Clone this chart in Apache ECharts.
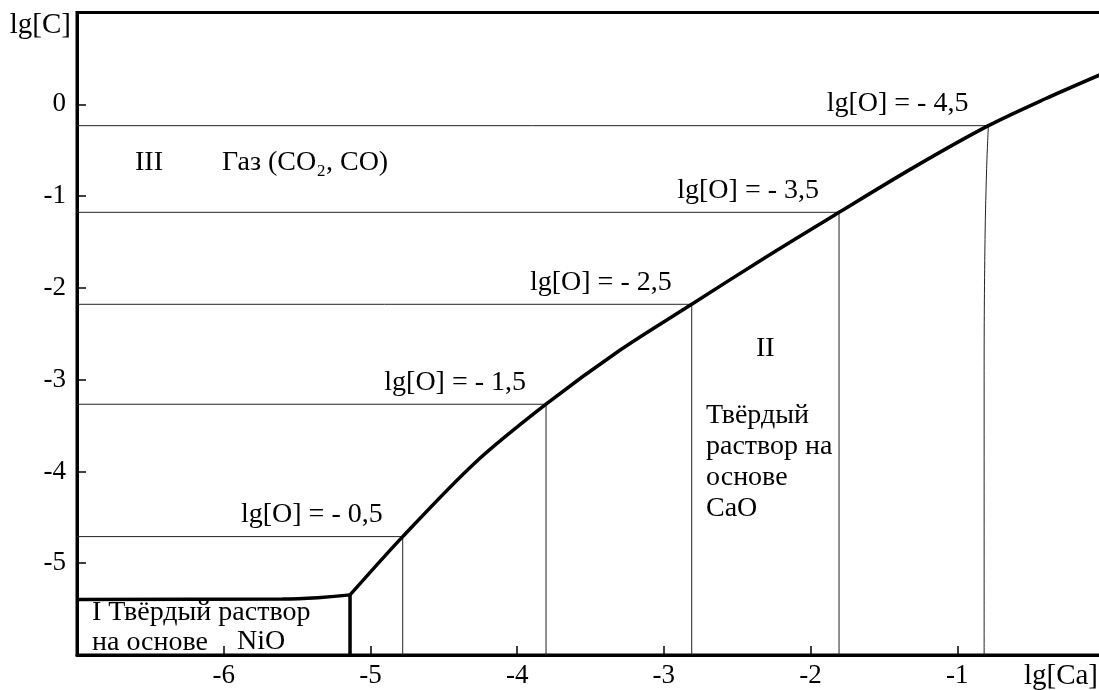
<!DOCTYPE html>
<html>
<head>
<meta charset="utf-8">
<script src="https://cdn.jsdelivr.net/npm/echarts@6/dist/echarts.min.js"></script>
<style>
html,body{margin:0;padding:0;background:#fff;}
#chart{width:1099px;height:690px;}
</style>
</head>
<body>
<div id="chart"></div>
<script>
// ---- data ----
const xTickValues = [-6, -5, -4, -3, -2, -1];
const yTickValues = [-5, -4, -3, -2, -1, 0];
const xAxisTitle = 'lg[Ca]';
const yAxisTitle = 'lg[C]';

// thick boundary Gas / CaO solid solution
const boundaryX = [-5.139, -4.78, -4.29, -3.803, -3.3, -2.81, -2.3, -1.806, -1.3, -0.788, -0.4, 0];
const boundaryY = [-5.345, -4.71, -3.91, -3.268, -2.68, -2.179, -1.66, -1.177, -0.69, -0.233, 0.06, 0.34];

// NiO region boundary
const nioX = [-7, -5.6, -5.36, -5.139];
const nioY = [-5.395, -5.39, -5.375, -5.345];
const nioVertX = [-5.139, -5.139];
const nioVertY = [-5.345, -6];

// iso-oxygen lines
const isoLabels = ['lg[O] = - 0,5', 'lg[O] = - 1,5', 'lg[O] = - 2,5', 'lg[O] = - 3,5', 'lg[O] = - 4,5'];
const isoX = [-4.78, -3.803, -2.81, -1.806, -0.788];
const isoY = [-4.71, -3.268, -2.179, -1.177, -0.233];
// curved vertical part of the last iso line
const iso45VertX = [-0.788, -0.8, -0.812, -0.817, -0.817];
const iso45VertY = [-0.233, -0.7, -1.6, -3, -6];

const xMin = -7, xMax = 0, yMin = -6, yMax = 1;

// ---- chart ----
const FONT = "'Liberation Serif', 'Times New Roman', serif";
const chart = echarts.init(document.getElementById('chart'), null, {renderer: 'canvas'});

const zip = (xs, ys) => xs.map((x, i) => [x, ys[i]]);
const series = [];

series.push({
  type: 'line', data: zip(boundaryX, boundaryY), smooth: 0.3, symbol: 'none',
  lineStyle: {color: '#000', width: 3.5}, z: 5, silent: true
});
series.push({
  type: 'line', data: zip(nioX, nioY), smooth: 0.3, symbol: 'none',
  lineStyle: {color: '#000', width: 3.5}, z: 5, silent: true
});
series.push({
  type: 'line', data: zip(nioVertX, nioVertY), symbol: 'none',
  lineStyle: {color: '#000', width: 3.5}, z: 5, silent: true
});

isoX.forEach((x, i) => {
  series.push({
    type: 'line', data: [[xMin, isoY[i]], [x, isoY[i]]], symbol: 'none',
    lineStyle: {color: '#222', width: 1}, z: 3, silent: true
  });
  if (i < isoX.length - 1) {
    series.push({
      type: 'line', data: [[x, isoY[i]], [x, yMin]], symbol: 'none',
      lineStyle: {color: '#222', width: 1}, z: 3, silent: true
    });
  }
});
series.push({
  type: 'line', data: zip(iso45VertX, iso45VertY), smooth: 0.4, symbol: 'none',
  lineStyle: {color: '#222', width: 1}, z: 3, silent: true
});

// iso line labels
series.push({
  type: 'scatter', symbolSize: 0, itemStyle: {color: '#000', opacity: 1}, silent: true, z: 6,
  data: isoX.map((x, i) => ({value: [x, isoY[i]], name: isoLabels[i]})),
  label: {
    show: true, position: [0, 0], align: 'right', verticalAlign: 'middle',
    offset: [-20, -22], formatter: p => p.name, opacity: 1,
    fontFamily: FONT, fontSize: 28, color: '#000'
  }
});

const textStyle = (extra) => Object.assign({fontFamily: FONT, fontSize: 28, fill: '#000'}, extra);

const option = {
  animation: false,
  backgroundColor: '#fff',
  grid: {
    left: 77, top: 12.5, width: 1027, height: 642.5,
    outerBoundsMode: 'none', containLabel: false,
    show: true, borderColor: '#000', borderWidth: 3, backgroundColor: 'transparent'
  },
  xAxis: {
    type: 'value', min: xMin, max: xMax, interval: 1,
    axisLine: {show: true, onZero: false, lineStyle: {color: '#000', width: 3}},
    axisTick: {show: true, inside: true, length: 9, lineStyle: {color: '#000', width: 1.5}},
    axisLabel: {
      margin: 7, fontFamily: FONT, fontSize: 27, color: '#000',
      formatter: v => xTickValues.includes(v) ? String(v) : ''
    },
    splitLine: {show: false}
  },
  yAxis: {
    type: 'value', min: yMin, max: yMax, interval: 1,
    axisLine: {show: true, onZero: false, lineStyle: {color: '#000', width: 3}},
    axisTick: {show: true, inside: true, length: 9, lineStyle: {color: '#000', width: 1.5}},
    axisLabel: {
      margin: 11, fontFamily: FONT, fontSize: 27, color: '#000',
      formatter: v => yTickValues.includes(v) ? String(v) : ''
    },
    splitLine: {show: false}
  },
  graphic: [
    {type: 'text', right: 1099 - 71, top: 11, style: textStyle({text: yAxisTitle, align: 'right', fontSize: 29})},
    {type: 'text', right: 1, top: 662, style: textStyle({text: xAxisTitle, fontSize: 29})},
    {type: 'text', left: 135, top: 149, style: textStyle({text: 'III'})},
    {type: 'text', left: 222, top: 149, style: textStyle({text: 'Газ (CO₂, CO)'})},
    {type: 'text', left: 756, top: 335, style: textStyle({text: 'II'})},
    {type: 'text', left: 706, top: 400, style: textStyle({text: 'Твёрдый\nраствор на\nоснове\nCaO', lineHeight: 31})},
    {type: 'text', left: 92, top: 598, style: textStyle({text: 'I Твёрдый раствор\nна основе', lineHeight: 30})},
    {type: 'text', left: 237, top: 628, style: textStyle({text: 'NiO'})}
  ],
  series: series
};
chart.setOption(option);
</script>
</body>
</html>
